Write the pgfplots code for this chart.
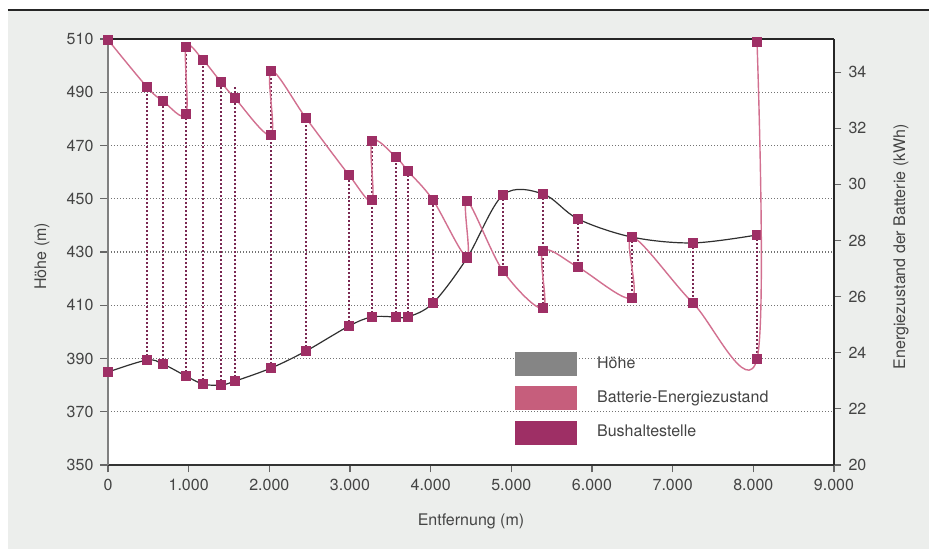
\documentclass[border=0pt]{standalone}
\usepackage{pgfplots}
\pgfplotsset{compat=1.18}
\usepackage{pgfplotstable}
\usepackage{fontspec}
\setmainfont{TeX Gyre Heros}
\definecolor{bg}{HTML}{ECEEEC}
\definecolor{stop}{HTML}{9E2F65}
\definecolor{stopline}{HTML}{7A2852}
\definecolor{batline}{HTML}{D27090}
\definecolor{batleg}{HTML}{C65E7C}
\definecolor{elevline}{HTML}{303030}
\definecolor{txt}{HTML}{444444}

\pgfplotstableread{
x elev
0 384.9
483 389.4
682 387.9
967 383.4
1178 380.4
1401 380.0
1574 381.5
2021 386.4
2455 392.8
2988 402.2
3273 405.6
3570 405.6
3719 405.6
4029 410.8
4450 427.7
4897 451.4
5393 451.8
5827 442.4
6496 435.6
7252 433.4
8046 436.4
}\elevtab

\pgfplotstableread{
x bat
0 35.15
483 33.47
682 32.97
967 32.50
967 34.89
1178 34.43
1401 33.64
1574 33.07
2021 31.76
2021 34.04
2455 32.36
2988 30.33
3273 29.44
3273 31.54
3570 30.97
3719 30.47
4029 29.44
4450 27.41
4450 29.41
4897 26.91
5393 25.59
5393 27.62
5827 27.05
6496 25.95
6496 28.12
7252 25.77
8046 23.78
8046 35.07
}\battab

\pgfplotstableread{
x elev dot
483 389.4 33.47
682 387.9 32.97
967 383.4 34.89
1178 380.4 34.43
1401 380.0 33.64
1574 381.5 33.49
2021 386.4 34.04
2455 392.8 32.36
2988 402.2 30.33
3273 405.6 31.54
3570 405.6 30.97
3719 405.6 30.47
4029 410.8 29.44
4897 451.4 26.91
5393 451.8 25.59
5827 442.4 27.05
6496 435.6 25.95
7252 433.4 25.77
8046 436.4 23.78
}\dottab

\pgfplotsset{
 common/.style={
  scale only axis, width=363pt, height=213pt,
  xmin=0, xmax=9000, clip=false,
  font=\fontsize{8}{9.6}\selectfont,
  tick label style={color=txt, font=\fontsize{8}{9.6}\selectfont},
  label style={color=txt, font=\fontsize{8}{9.6}\selectfont},
  tick align=outside, major tick length=3.75pt,
  every tick/.style={color=black!60, line width=0.6pt},
  /pgf/number format/assume math mode=true,
 }
}

\begin{document}
\begin{tikzpicture}[x=1pt,y=1pt]
\useasboundingbox (-54,-42) rectangle (414.5,232.5);
\fill[white] (-54,-42) rectangle (414.5,232.5);
\fill[bg] (-50,-42) rectangle (410.5,227);
\draw[line width=0.9pt, black!85] (-50,227.6) -- (410.5,227.6);

\begin{axis}[common,
  ymin=350, ymax=510, ytick={350,370,...,510},
  xtick={0,1000,...,9000},
  xticklabels={0,1.000,2.000,3.000,4.000,5.000,6.000,7.000,8.000,9.000},
  axis x line*=bottom, axis y line*=left,
  x axis line style={-, black!80, line width=0.8pt},
  y axis line style={-, black!50, line width=1pt},
  axis background/.style={fill=white},
  ymajorgrids,
  grid style={black!55, line width=0.55pt, dash pattern=on 0.5pt off 1pt},
  xlabel={Entfernung (m)}, ylabel={Höhe (m)},
  xlabel style={at={(axis description cs:0.5,-0.1315)}, anchor=center},
  ylabel style={at={(axis description cs:-0.0909,0.49)}, anchor=center},
]
\addplot[only marks, mark=none, forget plot,
  error bars/.cd, y dir=plus, y explicit, error mark=none,
  error bar style={stopline, line width=1.2pt, dash pattern=on 1.1pt off 0.9pt}]
  table[x=x, y=elev, y error expr={350+(\thisrow{dot}-20)*160/15.18-\thisrow{elev}}] {\dottab};
\addplot[elevline, line width=0.6pt, smooth, tension=0.55,
  mark=square*, mark size=2.35pt, mark options={solid, fill=stop, draw=stop, line width=0pt}]
  table[x=x, y=elev] {\elevtab};
\end{axis}

\begin{axis}[common,
  ymin=20, ymax=35.18, ytick={20,22,...,34},
  xtick=\empty,
  axis x line*=top, axis y line*=right,
  x axis line style={-, black!85, line width=0.8pt},
  y axis line style={-, black!85, line width=0.8pt},
  ylabel={Energiezustand der Batterie (kWh)},
  ylabel style={at={(axis description cs:1.0923,0.512)}, anchor=center},
  legend style={at={(axis description cs:0.5606,0.2653)}, anchor=north west,
    draw=none, fill=none, inner sep=0pt, row sep=5.15pt,
    font=\fontsize{8}{9.6}\selectfont, text=txt,
    nodes={inner sep=0pt},
    /tikz/every odd column/.append style={column sep=10pt}},
  legend cell align=left,
]
\addplot[batline, line width=0.7pt, smooth, tension=0.55,
  mark=square*, mark size=2.35pt, mark options={solid, fill=stop, draw=stop, line width=0pt}, forget plot]
  table[x=x, y=bat] {\battab};
\addlegendimage{legend image code/.code={\fill[black!48] (0pt,-5.75pt) rectangle (30.5pt,5.75pt);}}
\addlegendentry{Höhe}
\addlegendimage{legend image code/.code={\fill[batleg] (0pt,-5.75pt) rectangle (30.5pt,5.75pt);}}
\addlegendentry{Batterie-Energiezustand}
\addlegendimage{legend image code/.code={\fill[stop] (0pt,-5.75pt) rectangle (30.5pt,5.75pt);}}
\addlegendentry{Bushaltestelle}
\end{axis}
\end{tikzpicture}
\end{document}
